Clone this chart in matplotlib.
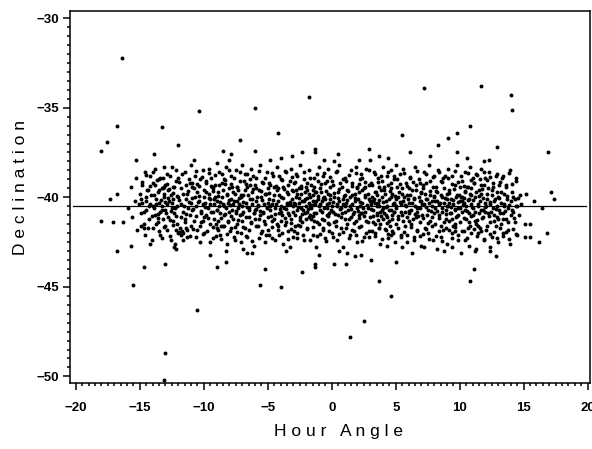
import numpy as np
import matplotlib.pyplot as plt
from matplotlib.ticker import MultipleLocator

# Hour angle / declination pairs, grouped by hour angle range
west = [
    (-15.9, -40.6), (-15.7, -39.4), (-15.6, -41.1), (-15.4, -40.2), (-15.3, -38.9), (-15.2, -41.8), (-15.1, -40.4), (-15.0, -39.8),
    (-14.9, -40.9), (-14.8, -39.3), (-14.8, -40.3), (-14.7, -41.5), (-14.6, -38.6), (-14.5, -40.0), (-14.5, -40.7), (-14.4, -39.6),
    (-14.3, -41.2), (-14.2, -40.4), (-14.2, -38.8), (-14.1, -39.9), (-14.0, -41.7), (-14.0, -40.5),
    (-13.95, -39.2), (-13.9, -40.6), (-13.8, -41.0), (-13.8, -38.4), (-13.7, -40.1), (-13.6, -39.7), (-13.6, -41.4), (-13.5, -40.3),
    (-13.5, -39.0), (-13.4, -40.8), (-13.4, -42.1), (-13.3, -39.5), (-13.3, -40.5), (-13.2, -38.9), (-13.2, -41.2), (-13.1, -40.0),
    (-13.1, -39.8), (-13.0, -40.7), (-13.0, -41.6), (-13.0, -39.3),
    (-12.9, -40.4), (-12.9, -38.7), (-12.8, -41.1), (-12.8, -39.6), (-12.7, -40.2), (-12.6, -42.4), (-12.6, -39.9), (-12.5, -40.6),
    (-12.5, -38.3), (-12.4, -41.3), (-12.4, -40.1), (-12.3, -39.4), (-12.3, -40.9), (-12.2, -41.8), (-12.2, -39.1), (-12.1, -40.5),
    (-12.1, -41.5), (-12.0, -40.0), (-12.0, -38.9), (-12.0, -42.0),
    (-11.9, -41.7), (-11.8, -40.4), (-11.8, -39.5), (-11.7, -41.9), (-11.6, -40.8), (-11.5, -38.6), (-11.5, -41.2), (-11.4, -40.1),
    (-11.3, -39.8), (-11.3, -42.2), (-11.2, -40.6), (-11.1, -39.2), (-11.1, -41.0), (-11.0, -40.3), (-11.0, -38.2), (-11.0, -41.6),
    (-10.9, -40.7), (-10.9, -39.4), (-10.8, -41.3), (-10.7, -40.0), (-10.7, -38.8), (-10.6, -40.5), (-10.5, -41.8), (-10.5, -39.7),
    (-10.4, -40.2), (-10.3, -42.5), (-10.3, -39.0), (-10.2, -40.9), (-10.2, -41.4), (-10.1, -38.5), (-10.1, -40.4), (-10.0, -39.6),
    (-10.0, -41.1), (-10.0, -40.0),
    (-9.95, -42.0), (-9.9, -40.3), (-9.8, -39.1), (-9.8, -41.0), (-9.7, -40.6), (-9.6, -38.4), (-9.6, -39.8), (-9.5, -41.5),
    (-9.5, -40.1), (-9.4, -40.8), (-9.4, -38.9), (-9.3, -42.3), (-9.3, -39.5), (-9.2, -40.4), (-9.2, -41.2), (-9.1, -40.0),
    (-9.1, -39.3), (-9.0, -41.7), (-9.0, -40.7), (-9.0, -38.1),
    (-8.95, -40.2), (-8.9, -39.7), (-8.9, -41.3), (-8.8, -40.5), (-8.8, -38.6), (-8.7, -42.1), (-8.7, -40.9), (-8.6, -39.2),
    (-8.6, -40.0), (-8.5, -41.6), (-8.5, -40.4), (-8.4, -39.0), (-8.4, -41.0), (-8.3, -40.6), (-8.3, -38.3), (-8.2, -39.9),
    (-8.2, -42.6), (-8.1, -40.3), (-8.1, -41.4), (-8.0, -39.5), (-8.0, -40.8), (-8.0, -37.9),
]

centre_west = [
    (-7.95, -41.9), (-7.9, -40.1), (-7.9, -38.8), (-7.8, -40.7), (-7.8, -39.4), (-7.7, -41.2), (-7.7, -40.4), (-7.6, -42.4),
    (-7.6, -39.8), (-7.5, -40.9), (-7.5, -38.5), (-7.4, -40.2), (-7.4, -41.5), (-7.3, -39.6), (-7.3, -40.6), (-7.2, -41.0),
    (-7.2, -39.1), (-7.1, -40.0), (-7.1, -42.0), (-7.0, -40.5), (-7.0, -38.2), (-7.0, -41.3),
    (-6.95, -39.9), (-6.9, -40.8), (-6.8, -41.7), (-6.8, -38.7), (-6.7, -40.3), (-6.6, -39.4), (-6.6, -42.2), (-6.5, -40.6),
    (-6.5, -41.1), (-6.4, -39.0), (-6.4, -40.1), (-6.3, -41.4), (-6.3, -38.4), (-6.2, -40.4), (-6.2, -39.7), (-6.1, -40.9),
    (-6.1, -42.7), (-6.0, -39.3), (-6.0, -40.7), (-6.0, -41.2),
    (-5.9, -40.2), (-5.9, -38.9), (-5.8, -41.6), (-5.8, -40.5), (-5.7, -39.6), (-5.6, -41.0), (-5.6, -38.2), (-5.5, -40.0),
    (-5.5, -42.0), (-5.4, -40.8), (-5.4, -39.2), (-5.3, -41.3), (-5.3, -40.4), (-5.2, -39.8), (-5.2, -42.5), (-5.1, -40.6),
    (-5.1, -38.6), (-5.0, -41.1), (-5.0, -39.5), (-5.0, -40.3),
    (-4.95, -41.8), (-4.9, -40.1), (-4.8, -39.3), (-4.8, -40.7), (-4.7, -42.3), (-4.7, -40.4), (-4.6, -38.8), (-4.5, -41.2),
    (-4.5, -39.9), (-4.4, -40.6), (-4.3, -38.3), (-4.3, -41.5), (-4.2, -40.2), (-4.2, -39.5), (-4.1, -40.9), (-4.1, -42.1),
    (-4.0, -39.0), (-4.0, -40.5), (-4.0, -41.3), (-4.0, -37.8),
    (-3.95, -40.0), (-3.9, -41.0), (-3.8, -39.4), (-3.8, -42.6), (-3.7, -40.6), (-3.6, -38.6), (-3.6, -41.4), (-3.5, -40.3),
    (-3.5, -39.7), (-3.4, -40.9), (-3.4, -41.9), (-3.3, -39.1), (-3.3, -40.4), (-3.2, -38.4), (-3.2, -41.2), (-3.1, -40.1),
    (-3.1, -39.6), (-3.0, -40.8), (-3.0, -42.2), (-3.0, -40.5),
    (-2.95, -39.2), (-2.9, -40.4), (-2.9, -41.6), (-2.8, -40.0), (-2.8, -38.7), (-2.7, -40.7), (-2.7, -42.0), (-2.6, -39.5),
    (-2.6, -40.3), (-2.5, -41.1), (-2.5, -38.2), (-2.4, -40.6), (-2.4, -39.8), (-2.3, -41.4), (-2.3, -40.2), (-2.2, -39.0),
    (-2.2, -42.4), (-2.1, -40.9), (-2.1, -40.1), (-2.0, -39.4), (-2.0, -41.2), (-2.0, -40.5),
    (-1.95, -40.8), (-1.9, -39.6), (-1.9, -41.7), (-1.8, -40.3), (-1.8, -38.5), (-1.7, -40.0), (-1.7, -41.0), (-1.6, -39.3),
    (-1.6, -40.6), (-1.5, -42.1), (-1.5, -40.2), (-1.4, -38.9), (-1.4, -41.3), (-1.3, -40.4), (-1.3, -39.7), (-1.2, -40.9),
    (-1.2, -42.8), (-1.1, -39.1), (-1.1, -40.1), (-1.0, -41.5), (-1.0, -40.5), (-1.0, -38.3), (-1.5, -39.9), (-1.8, -41.1),
    (-0.95, -40.7), (-0.9, -39.5), (-0.8, -41.2), (-0.8, -40.2), (-0.7, -38.8), (-0.7, -41.8), (-0.6, -40.0), (-0.6, -40.6),
    (-0.5, -39.2), (-0.5, -42.3), (-0.4, -40.4), (-0.4, -41.0), (-0.3, -39.8), (-0.3, -38.4), (-0.2, -40.9), (-0.2, -41.5),
    (-0.1, -40.1), (-0.1, -39.4), (0.0, -40.5), (0.0, -42.0), (-0.6, -37.9), (-0.2, -40.3),
]

centre_east = [
    (0.05, -39.1), (0.1, -40.8), (0.2, -41.4), (0.2, -40.0), (0.3, -38.6), (0.4, -40.4), (0.4, -42.4), (0.5, -39.7),
    (0.5, -41.0), (0.6, -40.2), (0.6, -38.2), (0.7, -40.6), (0.7, -41.7), (0.8, -39.4), (0.8, -40.9), (0.9, -40.1),
    (0.9, -42.8), (1.0, -39.9), (1.0, -41.2), (1.0, -40.5),
    (1.05, -38.9), (1.1, -40.3), (1.2, -41.5), (1.2, -39.6), (1.3, -40.7), (1.4, -42.1), (1.4, -40.0), (1.5, -38.5),
    (1.5, -41.1), (1.6, -40.4), (1.6, -39.2), (1.7, -40.8), (1.7, -41.9), (1.8, -39.8), (1.8, -40.2), (1.9, -38.3),
    (1.9, -41.3), (2.0, -40.6), (2.0, -39.4), (2.0, -42.5),
    (2.05, -40.1), (2.1, -41.0), (2.2, -39.0), (2.2, -40.5), (2.3, -41.6), (2.3, -38.7), (2.4, -40.3), (2.5, -39.5),
    (2.5, -42.2), (2.6, -40.8), (2.6, -40.0), (2.7, -41.3), (2.7, -38.4), (2.8, -39.8), (2.8, -40.6), (2.9, -41.9),
    (2.9, -39.3), (3.0, -40.2), (3.0, -41.1), (3.0, -37.9), (2.4, -40.9), (2.1, -39.7),
    (3.05, -40.4), (3.1, -39.2), (3.2, -41.4), (3.2, -40.7), (3.3, -38.6), (3.3, -40.1), (3.4, -42.0), (3.4, -39.7),
    (3.5, -40.5), (3.5, -41.0), (3.6, -38.9), (3.6, -40.3), (3.7, -41.7), (3.7, -39.4), (3.8, -40.8), (3.8, -42.6),
    (3.9, -40.0), (3.9, -39.1), (4.0, -41.2), (4.0, -40.6), (4.0, -38.3), (3.5, -39.9), (3.8, -41.5), (3.2, -40.2),
    (4.05, -39.6), (4.1, -40.9), (4.2, -41.8), (4.2, -40.2), (4.3, -38.8), (4.3, -40.5), (4.4, -42.3), (4.4, -39.3),
    (4.5, -40.7), (4.5, -41.3), (4.6, -40.0), (4.6, -38.5), (4.7, -41.0), (4.7, -39.8), (4.8, -40.4), (4.8, -42.0),
    (4.9, -39.0), (4.9, -40.8), (5.0, -41.5), (5.0, -40.1), (5.0, -38.2), (4.3, -41.1), (4.6, -39.5), (4.9, -40.3),
    (5.05, -40.6), (5.1, -39.4), (5.2, -41.2), (5.2, -40.0), (5.3, -38.7), (5.4, -40.4), (5.4, -42.1), (5.5, -39.8),
    (5.5, -41.0), (5.6, -40.2), (5.6, -38.4), (5.7, -40.8), (5.7, -41.6), (5.8, -39.2), (5.8, -40.5), (5.9, -42.5),
    (5.9, -39.9), (6.0, -40.9), (6.0, -41.3), (6.0, -39.5),
    (6.05, -40.3), (6.1, -38.9), (6.2, -41.5), (6.2, -40.7), (6.3, -39.6), (6.4, -40.1), (6.4, -42.2), (6.5, -38.3),
    (6.5, -40.5), (6.6, -41.1), (6.6, -39.3), (6.7, -40.8), (6.7, -41.9), (6.8, -40.0), (6.8, -39.0), (6.9, -40.6),
    (6.9, -41.4), (7.0, -39.7), (7.0, -40.2), (7.0, -42.7),
    (7.05, -41.0), (7.1, -39.5), (7.2, -40.4), (7.2, -38.6), (7.3, -41.7), (7.4, -40.1), (7.4, -39.2), (7.5, -40.7),
    (7.5, -42.0), (7.6, -40.3), (7.6, -38.2), (7.7, -41.3), (7.7, -39.9), (7.8, -40.5), (7.8, -41.1), (7.9, -39.4),
    (7.9, -42.4), (8.0, -40.0), (8.0, -40.9), (8.0, -38.8),
]

east = [
    (8.05, -40.6), (8.1, -41.5), (8.2, -39.7), (8.2, -40.2), (8.3, -38.5), (8.4, -41.0), (8.4, -40.4), (8.5, -42.2),
    (8.5, -39.1), (8.6, -40.8), (8.6, -40.0), (8.7, -41.8), (8.7, -38.9), (8.8, -40.3), (8.8, -39.5), (8.9, -41.2),
    (8.9, -40.7), (9.0, -42.6), (9.0, -39.8), (9.0, -40.1),
    (9.05, -38.4), (9.1, -40.5), (9.2, -41.3), (9.2, -39.6), (9.3, -40.9), (9.3, -40.1), (9.4, -42.0), (9.4, -38.8),
    (9.5, -40.4), (9.5, -41.6), (9.6, -39.3), (9.6, -40.7), (9.7, -40.0), (9.7, -41.1), (9.8, -38.2), (9.8, -39.9),
    (9.9, -40.6), (9.9, -42.4), (10.0, -40.2), (10.0, -39.4), (9.6, -41.9), (9.2, -40.3),
    (10.05, -41.4), (10.1, -40.0), (10.2, -39.1), (10.2, -40.8), (10.3, -41.9), (10.3, -40.3), (10.4, -38.6), (10.4, -39.7),
    (10.5, -40.5), (10.5, -41.2), (10.6, -42.3), (10.6, -39.4), (10.7, -40.1), (10.7, -40.9), (10.8, -38.3), (10.8, -41.6),
    (10.9, -39.9), (10.9, -40.4), (11.0, -41.0), (11.0, -38.9), (10.4, -40.7), (10.7, -42.7), (10.2, -40.2), (10.9, -39.5),
    (11.05, -40.6), (11.1, -39.2), (11.2, -41.3), (11.2, -40.0), (11.3, -38.7), (11.4, -40.5), (11.4, -42.0), (11.5, -39.6),
    (11.5, -40.9), (11.6, -41.7), (11.6, -40.2), (11.7, -38.4), (11.7, -39.8), (11.8, -40.7), (11.8, -41.1), (11.9, -39.3),
    (11.9, -42.4), (12.0, -40.3), (12.0, -40.8), (12.0, -38.9), (11.3, -41.5), (11.6, -39.0),
    (12.05, -41.8), (12.1, -40.1), (12.2, -39.5), (12.2, -40.9), (12.3, -38.6), (12.4, -40.4), (12.4, -41.4), (12.5, -39.9),
    (12.5, -42.2), (12.6, -40.6), (12.6, -39.2), (12.7, -41.0), (12.7, -40.2), (12.8, -38.8), (12.8, -41.6), (12.9, -40.5),
    (12.9, -39.7), (13.0, -42.5), (13.0, -40.0), (13.0, -41.2),
    (13.05, -40.7), (13.1, -39.3), (13.2, -41.5), (13.2, -40.3), (13.3, -38.9), (13.4, -40.9), (13.4, -42.0), (13.5, -39.8),
    (13.5, -40.5), (13.6, -41.2), (13.6, -39.4), (13.7, -40.1), (13.8, -41.8), (13.8, -40.6), (13.9, -38.5), (13.9, -42.6),
    (14.0, -40.2), (14.0, -41.0),
    (14.1, -39.7), (14.2, -40.8), (14.3, -41.4), (14.3, -40.1), (14.4, -39.1), (14.5, -40.5), (14.5, -42.1), (14.6, -41.0),
    (14.7, -39.9), (14.8, -40.4),
]

# the densest part of the band, close to the fitted level
core_west = [
    (-14.93, -40.12), (-14.66, -40.84), (-14.41, -39.57), (-14.27, -40.46), (-14.08, -41.03), (-14.55, -40.21),
    (-13.91, -39.86), (-13.74, -40.38), (-13.62, -40.93), (-13.48, -39.62), (-13.36, -40.15), (-13.23, -40.71),
    (-13.14, -39.44), (-13.05, -40.27), (-13.57, -41.18), (-13.83, -39.31),
    (-12.94, -40.88), (-12.82, -40.05), (-12.71, -39.52), (-12.63, -41.27), (-12.47, -40.34), (-12.38, -39.77),
    (-12.26, -40.62), (-12.15, -41.05), (-12.07, -39.94), (-12.55, -40.79),
    (-11.93, -40.18), (-11.78, -41.12), (-11.64, -39.83), (-11.52, -40.47), (-11.36, -40.91), (-11.24, -39.66),
    (-11.12, -40.29), (-11.45, -41.38),
    (-10.96, -40.02), (-10.84, -40.63), (-10.73, -39.48), (-10.61, -41.06), (-10.49, -40.27), (-10.37, -39.91),
    (-10.22, -40.74), (-10.08, -41.33), (-10.55, -39.24),
    (-9.92, -40.57), (-9.81, -39.72), (-9.67, -41.14), (-9.53, -40.36), (-9.44, -39.38), (-9.31, -40.83),
    (-9.18, -40.11), (-9.06, -41.49), (-9.62, -40.02), (-9.25, -39.63),
    (-8.97, -40.71), (-8.86, -39.94), (-8.74, -40.28), (-8.62, -41.16), (-8.53, -39.57), (-8.41, -40.49),
    (-8.33, -40.93), (-8.21, -39.81), (-8.12, -41.31), (-8.04, -40.17), (-8.68, -41.62), (-8.38, -39.26),
    (-7.93, -40.44), (-7.84, -41.05), (-7.72, -39.69), (-7.61, -40.21), (-7.52, -40.78), (-7.43, -39.43),
    (-7.34, -41.28), (-7.22, -40.37), (-7.13, -39.89), (-7.04, -40.96), (-7.57, -41.66), (-7.28, -40.04),
    (-6.92, -40.24), (-6.81, -39.61), (-6.73, -41.09), (-6.62, -40.52), (-6.54, -39.86), (-6.43, -40.71),
    (-6.32, -41.41), (-6.24, -40.09), (-6.13, -39.52), (-6.05, -40.86), (-6.68, -39.27),
    (-5.96, -40.63), (-5.84, -39.97), (-5.73, -40.41), (-5.65, -41.22), (-5.52, -39.64), (-5.43, -40.17),
    (-5.34, -40.88), (-5.22, -41.47), (-5.14, -39.83), (-5.03, -40.54), (-5.58, -40.79),
    (-4.94, -39.74), (-4.83, -40.49), (-4.74, -41.06), (-4.62, -40.13), (-4.53, -39.42), (-4.44, -40.91),
    (-4.36, -40.35), (-4.24, -41.58), (-4.16, -39.88), (-4.05, -40.67), (-4.68, -41.34), (-4.29, -39.61),
    (-3.93, -40.81), (-3.85, -40.06), (-3.73, -39.55), (-3.64, -41.17), (-3.52, -40.44), (-3.43, -39.79),
    (-3.35, -40.98), (-3.24, -40.27), (-3.16, -41.43), (-3.04, -39.67), (-3.58, -40.63),
    (-2.96, -40.31), (-2.87, -41.01), (-2.75, -39.83), (-2.66, -40.57), (-2.54, -40.02), (-2.45, -41.26),
    (-2.37, -39.46), (-2.26, -40.73), (-2.14, -40.19), (-2.06, -39.71), (-2.62, -41.53), (-2.31, -40.91), (-2.83, -39.58),
    (-1.94, -40.06), (-1.86, -40.67), (-1.76, -39.84), (-1.65, -41.19), (-1.56, -40.41), (-1.47, -39.57),
    (-1.38, -40.86), (-1.27, -40.21), (-1.16, -41.37), (-1.07, -39.93), (-1.72, -40.49), (-1.43, -41.02), (-1.22, -39.69),
    (-0.93, -40.36), (-0.84, -39.71), (-0.76, -40.83), (-0.64, -41.29), (-0.55, -40.11), (-0.46, -39.63),
    (-0.37, -40.58), (-0.26, -41.06), (-0.17, -39.88), (-0.06, -40.71), (-0.71, -40.02), (-0.32, -41.46),
]

core_east = [
    (0.07, -40.24), (0.16, -39.78), (0.27, -40.92), (0.36, -41.33), (0.47, -40.06), (0.56, -39.54),
    (0.64, -40.67), (0.73, -41.12), (0.84, -40.38), (0.95, -39.91), (0.42, -40.51),
    (1.06, -40.82), (1.17, -40.14), (1.26, -39.66), (1.34, -41.24), (1.45, -40.47), (1.56, -39.89),
    (1.64, -40.96), (1.76, -41.41), (1.85, -40.03), (1.94, -39.51), (1.52, -40.63),
    (2.04, -40.74), (2.15, -41.18), (2.24, -40.26), (2.36, -39.61), (2.44, -40.59), (2.55, -41.04),
    (2.63, -39.87), (2.74, -40.41), (2.85, -41.36), (2.94, -40.12), (2.58, -39.43), (2.29, -40.88),
    (3.06, -40.63), (3.14, -39.96), (3.23, -41.07), (3.34, -40.34), (3.45, -39.71), (3.53, -40.86),
    (3.64, -41.28), (3.73, -40.18), (3.84, -39.58), (3.93, -40.72), (3.38, -41.52), (3.67, -40.47), (3.87, -41.03),
    (4.03, -40.28), (4.14, -39.82), (4.23, -40.97), (4.34, -41.43), (4.45, -40.09), (4.54, -39.64),
    (4.63, -40.69), (4.74, -41.21), (4.83, -40.36), (4.94, -39.93), (4.27, -40.56), (4.58, -41.62), (4.87, -40.81),
    (5.04, -40.51), (5.16, -41.06), (5.25, -39.71), (5.36, -40.29), (5.44, -40.83), (5.56, -41.34),
    (5.64, -39.96), (5.75, -40.42), (5.86, -41.11), (5.95, -40.07), (5.47, -39.48),
    (6.06, -40.78), (6.15, -39.86), (6.26, -40.31), (6.35, -41.23), (6.46, -40.04), (6.55, -39.59),
    (6.66, -40.62), (6.74, -41.07), (6.86, -40.23), (6.95, -39.77), (6.52, -40.91),
    (7.06, -40.38), (7.16, -41.14), (7.25, -39.83), (7.34, -40.57), (7.46, -40.08), (7.55, -41.42),
    (7.64, -39.64), (7.76, -40.76), (7.84, -40.22), (7.96, -39.91), (7.43, -40.97),
    (8.06, -40.21), (8.15, -39.66), (8.26, -40.74), (8.35, -41.17), (8.46, -40.33), (8.54, -39.87),
    (8.65, -40.59), (8.76, -41.38), (8.84, -40.06), (8.96, -40.92), (8.57, -41.61),
    (9.04, -40.46), (9.15, -39.74), (9.24, -40.88), (9.36, -41.21), (9.45, -40.14), (9.54, -39.52),
    (9.66, -40.63), (9.75, -41.04), (9.84, -40.29), (9.96, -39.86), (9.33, -40.57), (9.63, -41.47), (9.87, -40.97),
    (10.06, -40.62), (10.14, -39.97), (10.26, -40.41), (10.35, -41.13), (10.44, -39.63), (10.56, -40.77),
    (10.64, -40.16), (10.75, -41.36), (10.84, -39.81), (10.95, -40.53), (10.33, -40.04), (10.66, -39.42), (10.91, -41.07),
    (11.07, -40.17), (11.16, -40.84), (11.27, -39.71), (11.36, -41.26), (11.45, -40.39), (11.54, -39.93),
    (11.66, -40.71), (11.76, -41.14), (11.85, -40.02), (11.95, -40.56), (11.41, -41.58), (11.73, -39.56),
    (12.07, -40.46), (12.16, -39.84), (12.26, -41.03), (12.36, -40.27), (12.45, -40.82), (12.56, -39.61),
    (12.65, -41.31), (12.75, -40.12), (12.86, -40.67), (12.95, -41.09),
    (13.06, -40.04), (13.16, -40.88), (13.26, -39.72), (13.37, -41.19), (13.46, -40.36), (13.57, -40.79),
    (13.66, -39.91), (13.76, -41.36), (13.87, -40.43),
    (14.06, -40.71), (14.17, -39.96), (14.26, -41.18), (14.37, -40.48), (14.56, -40.02),
]

# upper and lower flanks of the band
flank_upper = [
    (-14.85, -39.12), (-14.52, -38.74), (-14.18, -39.36), (-13.94, -38.57), (-13.66, -39.05), (-13.42, -38.91), (-13.17, -39.48), (-13.08, -38.33),
    (-12.88, -39.27), (-12.64, -38.82), (-12.43, -39.41), (-12.19, -38.46), (-11.97, -39.13), (-11.71, -38.69), (-11.43, -39.34), (-11.16, -38.97),
    (-10.92, -39.22), (-10.63, -38.54), (-10.38, -39.37), (-10.14, -38.86), (-9.86, -39.18), (-9.58, -38.63), (-9.36, -39.44), (-9.12, -38.77),
    (-8.84, -39.31), (-8.57, -38.72), (-8.36, -39.06), (-8.07, -38.49), (-7.86, -39.24), (-7.62, -38.93), (-7.38, -39.42), (-7.16, -38.61),
    (-6.87, -39.08), (-6.61, -38.68), (-6.38, -39.32), (-6.16, -38.84), (-5.91, -39.46), (-5.68, -38.56), (-5.46, -39.17), (-5.19, -38.92),
    (-4.88, -39.21), (-4.64, -38.64), (-4.39, -39.38), (-4.12, -38.81), (-3.89, -39.04), (-3.66, -38.52), (-3.39, -39.29), (-3.13, -38.89),
    (-2.91, -39.14), (-2.68, -38.79), (-2.43, -39.37), (-2.18, -38.58), (-1.93, -39.21), (-1.69, -38.94), (-1.41, -39.43), (-1.14, -38.71),
    (-0.88, -39.26), (-0.63, -38.66), (-0.39, -39.09), (-0.14, -38.87), (0.12, -39.34), (0.38, -38.53), (0.63, -39.18), (0.88, -38.96),
    (1.13, -39.07), (1.38, -38.76), (1.62, -39.39), (1.87, -38.62), (2.12, -39.24), (2.37, -38.91), (2.63, -39.16), (2.88, -38.48),
    (3.11, -39.33), (3.36, -38.68), (3.62, -39.12), (3.86, -38.84), (4.11, -39.41), (4.36, -38.57), (4.62, -39.19), (4.87, -38.79),
    (5.12, -38.98), (5.37, -39.27), (5.63, -38.63), (5.88, -39.36), (6.13, -38.86), (6.38, -39.13), (6.64, -38.51), (6.89, -39.22),
    (7.13, -39.31), (7.38, -38.72), (7.64, -39.08), (7.89, -38.89), (8.14, -39.42), (8.39, -38.61), (8.63, -39.17), (8.88, -38.83),
    (9.12, -38.94), (9.37, -39.28), (9.62, -38.56), (9.87, -39.14), (10.12, -38.81), (10.37, -39.38), (10.62, -38.67), (10.87, -39.03),
    (11.13, -39.21), (11.38, -38.74), (11.63, -39.33), (11.88, -38.59), (12.13, -39.06), (12.38, -38.88), (12.63, -39.44), (12.88, -38.69),
    (13.12, -39.16), (13.36, -38.79), (13.62, -39.31), (13.86, -38.64), (14.12, -39.27), (14.38, -38.92),
]

flank_lower = [
    (-14.91, -41.63), (-14.62, -42.08), (-14.35, -41.74), (-14.04, -42.36), (-13.77, -41.52), (-13.51, -41.89), (-13.28, -42.27), (-13.12, -41.68),
    (-12.91, -41.82), (-12.67, -42.19), (-12.41, -41.57), (-12.23, -42.62), (-11.95, -41.93), (-11.66, -42.41), (-11.39, -41.71), (-11.08, -42.14),
    (-10.86, -41.76), (-10.58, -42.24), (-10.31, -41.61), (-10.04, -42.03), (-9.77, -41.87), (-9.49, -42.47), (-9.27, -41.66), (-9.03, -42.18),
    (-8.92, -41.84), (-8.66, -42.33), (-8.44, -41.59), (-8.16, -42.07), (-7.88, -41.73), (-7.64, -42.21), (-7.41, -41.96), (-7.09, -42.52),
    (-6.94, -41.67), (-6.69, -42.14), (-6.46, -41.83), (-6.21, -42.46), (-5.93, -41.62), (-5.71, -42.28), (-5.44, -41.91), (-5.16, -42.09),
    (-4.91, -42.11), (-4.66, -41.64), (-4.42, -42.38), (-4.18, -41.81), (-3.92, -42.02), (-3.69, -41.57), (-3.44, -42.31), (-3.18, -41.78),
    (-2.93, -41.88), (-2.71, -42.26), (-2.47, -41.61), (-2.22, -42.09), (-1.97, -41.79), (-1.73, -42.37), (-1.46, -41.66), (-1.19, -42.18),
    (-0.91, -42.03), (-0.67, -41.71), (-0.42, -42.42), (-0.18, -41.86), (0.09, -42.21), (0.33, -41.63), (0.58, -42.06), (0.86, -41.92),
    (1.09, -41.74), (1.36, -42.29), (1.61, -41.82), (1.88, -42.12), (2.14, -41.66), (2.39, -42.44), (2.66, -41.97), (2.91, -42.23),
    (3.14, -41.86), (3.41, -42.17), (3.66, -41.69), (3.91, -42.34), (4.17, -41.77), (4.42, -42.06), (4.67, -41.88), (4.93, -42.48),
    (5.14, -41.71), (5.39, -42.24), (5.66, -41.93), (5.91, -42.08), (6.16, -41.64), (6.41, -42.39), (6.67, -41.81), (6.92, -42.16),
    (7.11, -42.04), (7.37, -41.76), (7.62, -42.31), (7.87, -41.62), (8.13, -42.19), (8.38, -41.87), (8.64, -42.43), (8.91, -41.72),
    (9.14, -41.84), (9.39, -42.27), (9.63, -41.68), (9.89, -42.11), (10.16, -41.91), (10.41, -42.36), (10.66, -41.73), (10.92, -42.02),
    (11.12, -41.79), (11.37, -42.16), (11.64, -41.88), (11.89, -42.34), (12.14, -41.63), (12.39, -42.07), (12.66, -41.94), (12.91, -42.28),
    (13.14, -41.71), (13.39, -42.18), (13.64, -41.92), (13.89, -42.31), (14.16, -41.76), (14.42, -42.04),
]

# scattered points away from the main band
fringe = [
    (-16.4, -32.2), (-16.8, -36.0), (-17.6, -36.9), (-18.0, -37.4), (-13.3, -36.1), (-10.4, -35.2), (-12.0, -37.1),
    (-15.3, -37.9), (-13.9, -37.6), (-17.3, -40.1), (-16.8, -39.8), (-18.0, -41.3), (-17.1, -41.4), (-16.3, -41.4),
    (-16.8, -43.0), (-15.7, -42.7), (-14.7, -43.9), (-15.5, -44.9), (-13.0, -43.7), (-12.3, -42.8), (-12.2, -42.9),
    (-10.5, -46.3), (-13.0, -48.7), (-13.1, -50.2), (-14.7, -41.7), (-11.8, -42.1), (-11.6, -42.0), (-11.3, -41.8),
    (-1.8, -34.4), (-6.0, -35.0), (-4.2, -36.4), (-7.2, -36.8), (-1.3, -37.3), (-1.3, -37.5), (-6.0, -37.4),
    (-8.5, -37.4), (-2.3, -37.5), (-5.6, -44.9), (-4.0, -45.0), (-5.2, -44.0), (-2.3, -44.2), (-1.3, -43.9),
    (-1.3, -43.7), (-8.3, -43.6), (-9.0, -43.9), (-9.5, -43.2), (-6.6, -43.1), (-6.2, -43.1), (-3.3, -42.8),
    (-1.0, -43.2), (-8.3, -43.0),
    (7.2, -33.9), (5.5, -36.5), (2.9, -37.3), (0.5, -37.6), (0.2, -38.0), (3.7, -37.7), (2.1, -37.9), (6.1, -37.5),
    (9.8, -36.4), (9.1, -36.7), (8.3, -37.1), (9.8, -37.5), (3.7, -44.7), (4.6, -45.5), (2.5, -46.9), (1.4, -47.8),
    (0.2, -43.7), (1.1, -43.7), (3.1, -43.5), (5.0, -43.6), (1.2, -43.1), (1.8, -43.3), (2.3, -43.2), (4.3, -42.7),
    (4.6, -42.1), (5.5, -42.8), (7.2, -42.8), (8.8, -43.0), (9.4, -42.8),
    (11.7, -33.8), (14.0, -34.3), (14.1, -35.1), (10.8, -36.0), (12.9, -37.2), (16.9, -37.5), (12.3, -37.9),
    (11.9, -38.0), (17.1, -39.7), (17.4, -40.1), (15.8, -40.2), (16.4, -40.6), (15.2, -39.8), (16.8, -42.0),
    (16.2, -42.5), (15.1, -42.2), (15.5, -42.2), (15.1, -41.5), (15.5, -41.5), (12.8, -43.3), (11.1, -44.0),
    (10.8, -44.7), (12.4, -42.8), (12.4, -43.0), (11.2, -43.0), (11.3, -42.9),
    (-7.9, -37.6), (-4.8, -37.9), (-3.1, -37.7), (4.4, -37.8), (7.7, -37.7), (10.6, -37.8), (-10.8, -37.9),
    (-6.9, -42.9), (-3.6, -43.0), (0.6, -43.0), (6.3, -43.1), (8.2, -42.9), (10.1, -43.1), (-14.2, -42.6),
]

fit_level = -40.5
fit_span = [-20.2, 19.9]

pts = np.array(west + centre_west + centre_east + east + core_west + core_east
               + flank_upper + flank_lower + fringe)

fig = plt.figure(figsize=(5.92, 4.49), dpi=100)
ax = fig.add_axes([0.118, 0.147, 0.879, 0.8285])

ax.plot(fit_span, [fit_level, fit_level], color='black', lw=0.9, zorder=1)
ax.scatter(pts[:, 0], pts[:, 1], s=8, c='black', marker='o', linewidths=0, zorder=2)

ax.set_xlim(-20.47, 20.2)
ax.set_ylim(-50.37, -29.6)
ax.xaxis.set_major_locator(MultipleLocator(5))
ax.xaxis.set_minor_locator(MultipleLocator(0.5))
ax.yaxis.set_major_locator(MultipleLocator(5))
ax.yaxis.set_minor_locator(MultipleLocator(0.5))
ax.tick_params(which='major', direction='out', length=5, width=1.1, labelsize=9.5)
ax.tick_params(which='minor', direction='out', length=2.5, width=1.1)
ax.tick_params(axis='x', which='major', pad=9)
ax.tick_params(axis='y', which='major', pad=3)
for lab in ax.get_xticklabels() + ax.get_yticklabels():
    lab.set_fontfamily('Liberation Sans')
    lab.set_fontweight('bold')
for sp in ax.spines.values():
    sp.set_linewidth(1.1)

fig.text(0.571, 0.038, 'H o u r   A n g l e', ha='center', va='center',
         fontsize=12.5, family='Liberation Sans')
fig.text(0.034, 0.582, 'D e c l i n a t i o n', ha='center', va='center',
         rotation=90, fontsize=12.5, family='Liberation Sans')

fig.savefig('out.png', dpi=100)
